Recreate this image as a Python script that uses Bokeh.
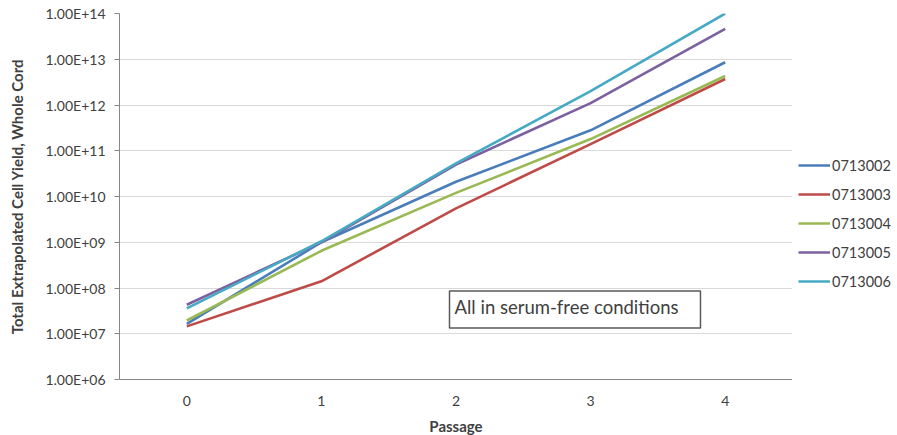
from bokeh.plotting import figure
from bokeh.layouts import row
from bokeh.models import (FactorRange, FixedTicker, CustomJSTickFormatter,
                          Legend, LegendItem, Label)
from bokeh.embed import file_html
from bokeh.resources import INLINE

passages = ["0", "1", "2", "3", "4"]
series_names = ["0713002", "0713003", "0713004", "0713005", "0713006"]
s_0713002 = [1.65e7, 1.0e9, 2.1e10, 2.8e11, 8.6e12]
s_0713003 = [1.45e7, 1.4e8, 5.5e9, 1.4e11, 3.7e12]
s_0713004 = [1.95e7, 6.5e8, 1.2e10, 1.8e11, 4.3e12]
s_0713005 = [4.3e7, 1.0e9, 5.0e10, 1.1e12, 4.6e13]
s_0713006 = [3.6e7, 1.05e9, 5.3e10, 2.0e12, 1.0e14]
series_values = [s_0713002, s_0713003, s_0713004, s_0713005, s_0713006]
colors = ["#4A7EBB", "#BE4B48", "#98B954", "#7D60A0", "#46AAC5"]
y_tick_values = [1e6, 1e7, 1e8, 1e9, 1e10, 1e11, 1e12, 1e13, 1e14]
y_tick_labels = ["1.00E+06", "1.00E+07", "1.00E+08", "1.00E+09", "1.00E+10",
                 "1.00E+11", "1.00E+12", "1.00E+13", "1.00E+14"]
annotation_text = "All in serum-free conditions"
x_title = "Passage"
y_title = "Total Extrapolated Cell Yield, Whole Cord"

FONT = "Lato"
TXT = "#404040"

p = figure(width=792, height=435, output_backend="svg", toolbar_location=None,
           frame_width=673, frame_height=366,
           x_range=FactorRange(*passages, range_padding=0),
           y_axis_type="log", y_range=(1e6, 1e14),
           min_border_left=119, min_border_right=0, min_border_top=13,
           min_border_bottom=56)
p.outline_line_color = None
p.background_fill_color = "white"

for name, vals, c in zip(series_names, series_values, colors):
    p.line(passages, vals, line_color=c, line_width=2.6)

# y axis
ya = p.yaxis[0]
ya.ticker = FixedTicker(ticks=y_tick_values, minor_ticks=[])
ya.formatter = CustomJSTickFormatter(args=dict(vals=y_tick_values, labels=y_tick_labels), code="""
const i = vals.findIndex(v => Math.abs(Math.log10(v) - Math.log10(tick)) < 1e-6);
return i >= 0 ? labels[i] : '';
""")
ya.major_label_text_font = FONT
ya.major_label_text_font_size = "14px"
ya.major_label_text_color = TXT
ya.major_label_standoff = 9
ya.major_tick_out = 5
ya.major_tick_in = 0
ya.minor_tick_out = 0
ya.axis_line_color = "#868686"
ya.major_tick_line_color = "#868686"
ya.axis_label = y_title
ya.axis_label_text_font = FONT
ya.axis_label_text_font_style = "bold"
ya.axis_label_text_font_size = "15px"
ya.axis_label_text_color = TXT
ya.axis_label_standoff = 16

# x axis
xa = p.xaxis[0]
xa.major_label_text_font = FONT
xa.major_label_text_font_size = "14px"
xa.major_label_text_color = TXT
xa.major_label_standoff = 10
xa.major_tick_line_color = None
xa.axis_line_color = "#868686"
xa.axis_label = x_title
xa.axis_label_text_font = FONT
xa.axis_label_text_font_style = "bold"
xa.axis_label_text_font_size = "15px"
xa.axis_label_text_color = TXT
xa.axis_label_standoff = 8

p.xgrid.grid_line_color = None
p.ygrid.grid_line_color = "#d9d9d9"
p.ygrid.grid_line_width = 1.2
p.ygrid.ticker = FixedTicker(ticks=y_tick_values, minor_ticks=[])

lab = Label(x=330, y=70, x_units="screen", y_units="screen", text=annotation_text,
            text_font=FONT, text_font_size="18.5px", text_color=TXT,
            text_align="left", text_baseline="middle",
            padding=(5, 22, 5, 10), border_line_color="#595959", border_line_width=1.5,
            background_fill_color="white")
p.add_layout(lab)

# legend panel as a separate narrow figure
lg = figure(width=105, height=435, output_backend="svg", toolbar_location=None,
            x_range=(0, 1), y_range=(0, 1), x_axis_location=None, y_axis_location=None,
            min_border=0)
lg.outline_line_color = None
lg.xgrid.visible = False
lg.ygrid.visible = False
items = []
for name, c in zip(series_names, colors):
    r = lg.line([0, 1], [float("nan"), float("nan")], line_color=c, line_width=2.6)
    items.append(LegendItem(label=name, renderers=[r]))
legend = Legend(items=items, location=(6, 86), orientation="vertical",
                label_text_font=FONT, label_text_font_size="14.5px",
                label_text_color=TXT, glyph_width=32, glyph_height=20,
                label_height=20, spacing=9, padding=0, margin=0,
                label_standoff=2, border_line_color=None,
                background_fill_alpha=0)
lg.add_layout(legend)

layout = row(p, lg, spacing=0)
open("out.html", "w").write(file_html(layout, INLINE))
